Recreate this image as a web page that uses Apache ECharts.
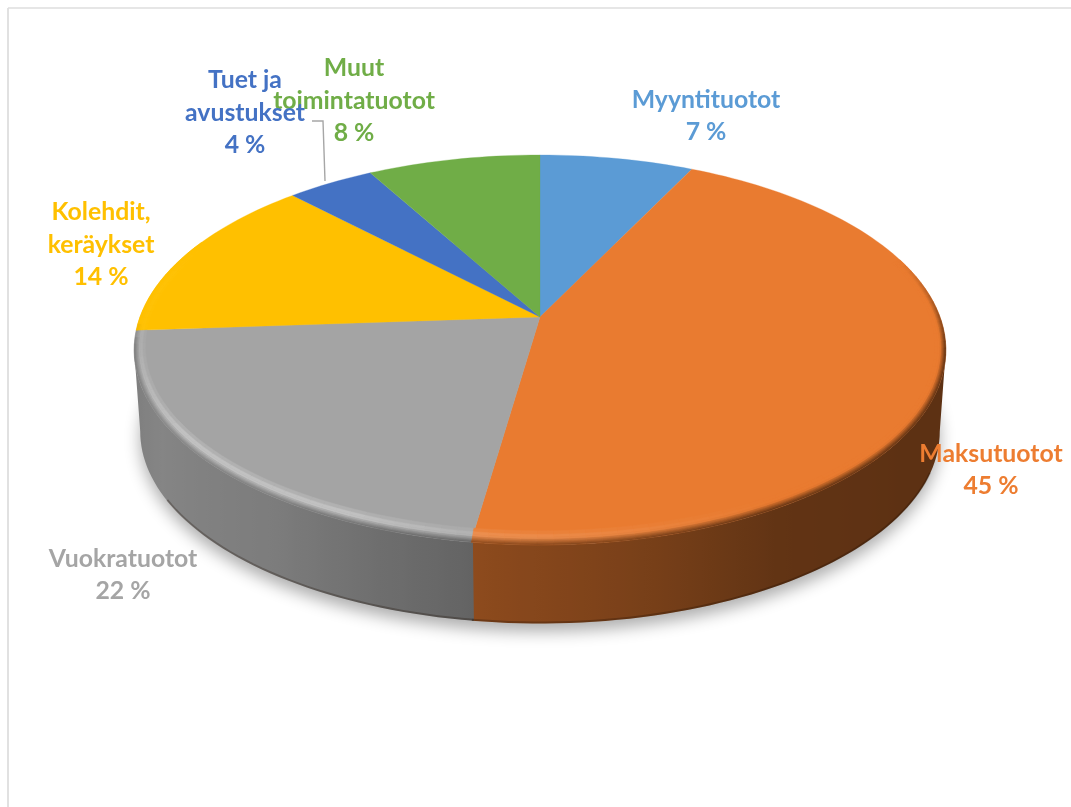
<!DOCTYPE html>
<html><head><meta charset="utf-8">
<style>html,body{margin:0;padding:0;background:#fff}#c{width:1071px;height:807px}</style>
<script src="https://cdn.jsdelivr.net/npm/echarts@6/dist/echarts.min.js"></script>
</head><body><div id="c"></div>
<script>
const categories = ['Myyntituotot','Maksutuotot','Vuokratuotot','Kolehdit,\nkeräykset','Tuet ja\navustukset','Muut\ntoimintatuotot'];
const values = [7.2,45.1,21.6,13.9,4.1,8.1];
const colors = ['#5B9BD5','#E97B30','#A4A4A4','#FFC000','#4472C4','#70AD47'];
const labelColors = ['#5B9BD5','#ED7D31','#A5A5A5','#FFC000','#4472C4','#70AD47'];

// layout of the tilted disc (perspective projection of a circle)
const CX=540, CY=317, A=400, B=189.4, K=0.169, DEPTH=82, BOTTOM_SCALE=0.985;
const labelAnchors = [[706,116],[991,470],[123,575],[101,245],[245,113],[354,101]];
const leader = [[312,121],[323,121],[325,181]];
const total = values.reduce((a,b)=>a+b,0);
const rad = d=>d*Math.PI/180;
const SIDE=Math.asin(K)*180/Math.PI, WALL_START=90+SIDE, WALL_END=270-SIDE;
function proj(th,rx,ry,dy,scale){
  const s=Math.sin(rad(th)), c=Math.cos(rad(th)), w=1+K*c*ry;
  return [CX+(scale||1)*A*s*rx/w, CY-(scale||1)*B*c*ry/w+(dy||0)];
}
const hex=c=>[1,3,5].map(i=>parseInt(c.substr(i,2),16));
const mix=(a,b,t)=>a.map((v,i)=>v+(b[i]-v)*t);
const css=a=>'rgb('+a.map(v=>Math.round(Math.max(0,Math.min(255,v)))).join(',')+')';
function lerpTable(t,x){
  if(x<=t[0][0])return t[0][1];
  for(let i=1;i<t.length;i++) if(x<=t[i][0]){const p=t[i-1],q=t[i];return p[1]+(q[1]-p[1])*(x-p[0])/(q[0]-p[0]);}
  return t[t.length-1][1];
}
const shadeT=[[80,.4],[125,.4],[150,.42],[170,.53],[187,.6],[215,.76],[240,.81],[266,.74],[300,.74]];
const darkT=[[72,0],[100,1],[262,1],[268,0]];
const highT=[[150,0],[187,.45],[205,1],[235,1],[262,.35],[285,.3],[295,0]];
const arc=(a,b,f)=>{const n=Math.max(2,Math.ceil((b-a)/1.5)),o=[];for(let i=0;i<=n;i++)o.push(f(a+(b-a)*i/n));return o;};
const RINGS=[[0,.25],[.25,.45],[.45,.6],[.6,.72],[.72,.82],[.82,.91],[.91,1]];

function renderItem(params,api){
  const i=params.dataIndex, kids=[];
  const v=api.value(1);
  let cum=0; for(let j=0;j<i;j++) cum+=values[j];
  const t0=cum/total*360, t1=(cum+v)/total*360, base=hex(colors[i]);
  const top=th=>proj(th,1,1), bot=th=>proj(th,1,1,DEPTH,BOTTOM_SCALE);
  // drop shadow below the whole disc, once
  if(i===0){
    kids.push({type:'polygon',z2:1,silent:true,shape:{points:arc(0,360,bot)},
      style:{fill:'#c8c8c8',shadowBlur:16,shadowColor:'rgba(0,0,0,0.32)',shadowOffsetY:8}});
  }
  // wall, one polygon per slice with a horizontal shading
  const wa=Math.max(t0-0.25,WALL_START), wb=Math.min(t1,WALL_END);
  if(wb>wa){
    const samples=arc(wa,wb,th=>th);
    const xs=samples.map(th=>top(th)[0]);
    const xmin=Math.min.apply(null,xs), xmax=Math.max.apply(null,xs);
    const stops=samples.map((th,j)=>({offset:(xs[j]-xmin)/(xmax-xmin),color:css(base.map(c=>c*lerpTable(shadeT,th)))}))
      .sort((p,q)=>p.offset-q.offset);
    const outline=arc(wa,wb,top).concat(arc(wa,wb,bot).reverse());
    kids.push({type:'polygon',z2:2,silent:true,shape:{points:outline},
      style:{fill:{type:'linear',global:true,x:xmin,y:0,x2:xmax,y2:0,colorStops:stops}}});
    const la=Math.max(wa,112), lb=Math.min(wb,240);
    kids.push({type:'polyline',z2:3,silent:true,shape:{points:arc(la,lb,th=>proj(th,1,1,DEPTH-1,BOTTOM_SCALE))},
      style:{fill:null,stroke:'rgba(30,15,5,0.28)',lineWidth:2}});
  }
  // top face
  kids.push({type:'polygon',z2:4,silent:true,shape:{points:[[CX,CY]].concat(arc(t0,t1,top))},
    style:{fill:colors[i],stroke:colors[i],lineWidth:.3}});
  // bevel rim
  const bw=0.052;
  const at=(th,u)=>proj(th,1-bw*0.5*(1-u),1-bw*(1-u));
  const n=Math.ceil((t1-t0)/2);
  for(let q=0;q<n;q++){
    const a=t0+(t1-t0)*q/n, b=t0+(t1-t0)*(q+1)/n, m=(a+b)/2;
    const d=lerpTable(darkT,m), h=lerpTable(highT,m)*(i===3?0.25:1);
    if(d<=0&&h<=0) continue;
    const wall=base.map(c=>c*lerpTable(shadeT,m));
    RINGS.forEach(r=>{
      const u=(r[0]+r[1])/2;
      let c=base;
      const peak=.5;
      if(u<peak) c=mix(base,[255,255,255],.36*h*Math.sin(u/peak*Math.PI/2));
      else { const w=(u-peak)/(1-peak);
        c=mix(mix(base,[255,255,255],.36*h),mix(base,wall,d),w); }
      const col=css(c);
      kids.push({type:'polygon',z2:5,silent:true,shape:{points:[at(a,r[0]),at(b,r[0]),at(b,r[1]),at(a,r[1])]},
        style:{fill:col,stroke:col,lineWidth:.5}});
    });
  }
  return {type:'group',children:kids};
}
function renderLabel(params,api){
  const i=params.dataIndex;
  return {type:'text',z2:20+(i===4?5:0),silent:true,x:labelAnchors[i][0],y:labelAnchors[i][1],
    style:{text:categories[i]+'\n'+Math.round(api.value(1))+' %',fill:labelColors[i],
      font:'bold 24.8px Lato, sans-serif',lineHeight:32.5,align:'center',verticalAlign:'middle',textAlign:'center',textVerticalAlign:'middle'}};
}
const chart=echarts.init(document.getElementById('c'),null,{renderer:'canvas'});
const data=values.map((v,i)=>[i,v]);
chart.setOption({
  animation:false,backgroundColor:'#fff',
  graphic:[
    {type:'line',shape:{x1:8,y1:8,x2:1071,y2:8},style:{stroke:'#dedede',lineWidth:1.6},z:0},
    {type:'line',shape:{x1:8,y1:8,x2:8,y2:807},style:{stroke:'#dedede',lineWidth:1.8},z:0},
    {type:'polyline',shape:{points:leader},style:{fill:null,stroke:'#a6a6a6',lineWidth:1.4},z:3}
  ],
  series:[
    {type:'custom',coordinateSystem:'none',renderItem:renderItem,data:data,z:2,silent:true},
    {type:'custom',coordinateSystem:'none',renderItem:renderLabel,data:data,z:5,silent:true}
  ]
});
</script></body></html>
